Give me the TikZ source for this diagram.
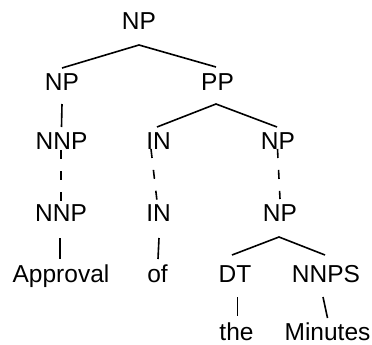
\documentclass[tikz,border=0pt]{standalone}
\usepackage{fontspec}
\setmainfont{Liberation Sans}
\begin{document}
\begin{tikzpicture}[x=1pt,y=-1pt,
  lbl/.style={anchor=base,inner sep=0pt,font=\fontsize{24.5}{29}\selectfont},
  edge/.style={line width=1.6pt},
  dedge/.style={line width=1.6pt,dash pattern=on 9pt off 12pt}]
\useasboundingbox (0,0) rectangle (372,345);
% labels, placed on their baselines
\node[lbl] (np1) at (139,30) {NP};
\node[lbl] (np2) at (62,90) {NP};
\node[lbl] (pp) at (217.5,90) {PP};
\node[lbl] (nnp1) at (61.5,149) {NNP};
\node[lbl] (in1) at (158.5,149) {IN};
\node[lbl] (np3) at (278,149) {NP};
\node[lbl] (nnp2) at (61,221) {NNP};
\node[lbl] (in2) at (158.5,221) {IN};
\node[lbl] (np4) at (280,221) {NP};
\node[lbl] (appr) at (61,282) {Approval};
\node[lbl] (of) at (157.5,282) {of};
\node[lbl] (dt) at (235,282) {DT};
\node[lbl] (nnps) at (326,282) {NNPS};
\node[lbl] (the) at (236.5,340) {the};
\node[lbl] (min) at (327.5,340) {Minutes};
% branches
\draw[edge] ([yshift=22pt]np2.base) -- ([yshift=-15pt]np1.base) -- ([xshift=-1.5pt,yshift=23pt]pp.base);
\draw[edge] ([yshift=-14pt]np2.base) -- ([yshift=22pt]nnp1.base);
\draw[edge] ([xshift=-1.5pt,yshift=22pt]in1.base) -- ([xshift=-1.5pt,yshift=-14pt]pp.base) -- ([xshift=-1pt,yshift=22pt]np3.base);
\draw[dedge] ([xshift=-0.5pt,yshift=-1pt]nnp1.base) -- ([yshift=19pt]nnp2.base);
\draw[dedge] ([xshift=-7.5pt,yshift=0pt]in1.base) -- ([xshift=-1.5pt,yshift=20pt]in2.base);
\draw[dedge] ([xshift=-0.5pt,yshift=0pt]np3.base) -- ([xshift=0pt,yshift=22pt]np4.base);
\draw[edge] ([xshift=-1pt,yshift=-17pt]nnp2.base) -- ([xshift=-1pt,yshift=23pt]appr.base);
\draw[edge] ([xshift=0.5pt,yshift=-17pt]in2.base) -- ([xshift=0.5pt,yshift=23pt]of.base);
\draw[edge] ([xshift=-3pt,yshift=27pt]dt.base) -- ([xshift=-1pt,yshift=-16pt]np4.base) -- ([xshift=-1pt,yshift=27pt]nnps.base);
\draw[edge] ([xshift=2.5pt,yshift=-15pt]dt.base) -- ([xshift=1pt,yshift=24pt]the.base);
\draw[edge] ([xshift=-3pt,yshift=-15pt]nnps.base) -- ([xshift=0pt,yshift=22pt]min.base);
\end{tikzpicture}
\end{document}
